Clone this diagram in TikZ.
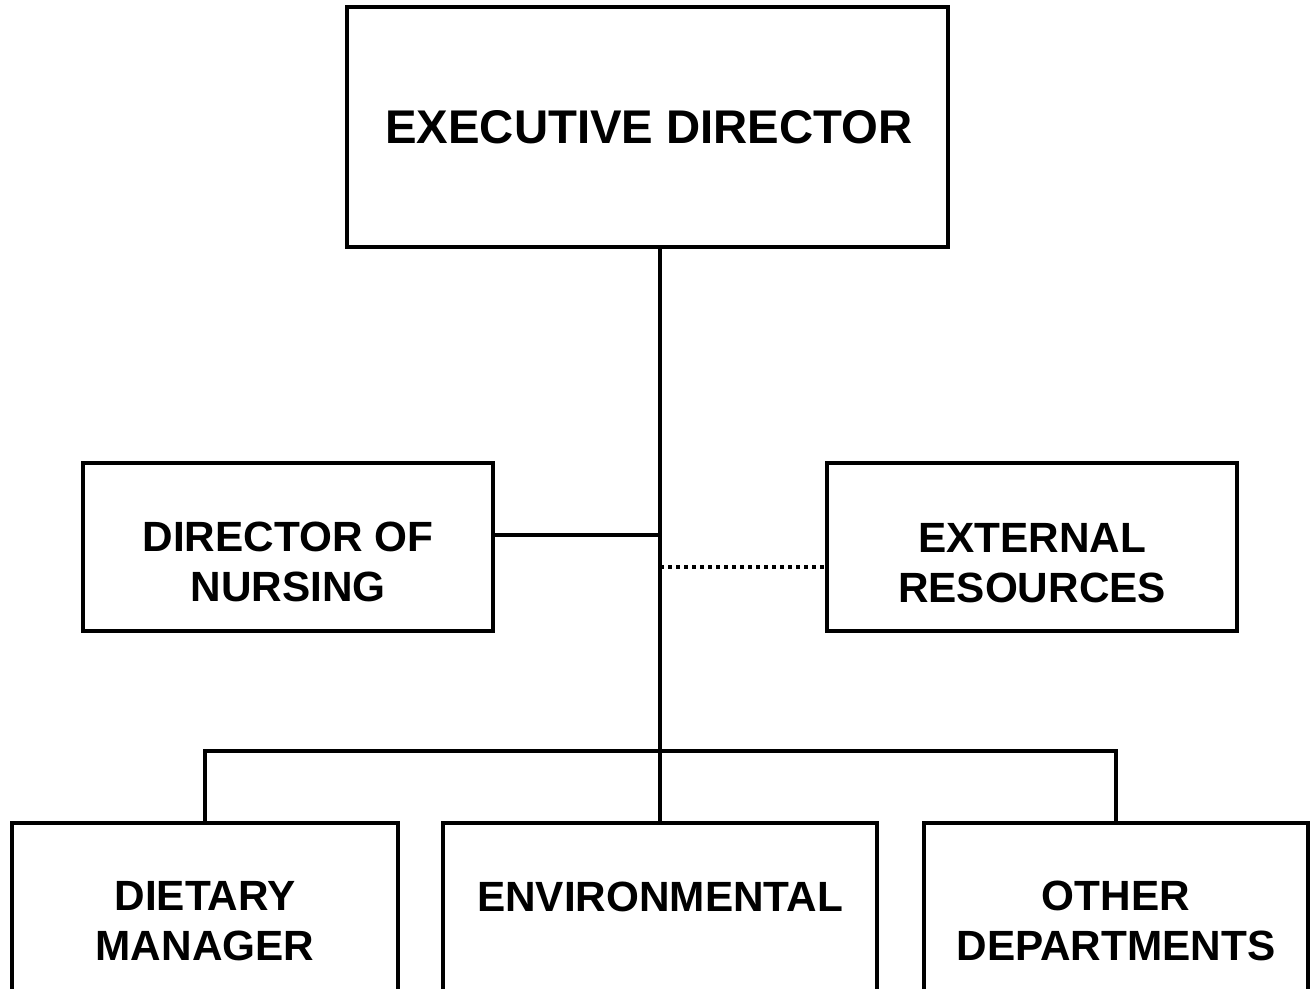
\documentclass[tikz,border=0pt]{standalone}
\usepackage{fontspec}
\setmainfont{Liberation Sans}
\begin{document}
\begin{tikzpicture}[x=0.5pt,y=-0.5pt,
  box/.style={draw=black,line width=1.75pt,rectangle,inner sep=0pt,fill=white},
  bigtxt/.style={font=\fontsize{23.65pt}{28pt}\selectfont\bfseries,align=center,inner sep=0pt},
  txt/.style={font=\fontsize{21.15pt}{25pt}\selectfont\bfseries,align=center,inner sep=0pt},
  conn/.style={draw=black,line width=1.75pt},
  dotconn/.style={draw=black,line width=2pt,dash pattern=on 2pt off 2pt}]
\useasboundingbox (0,0) rectangle (1310,989);
\clip (0,0) rectangle (1310,989);
% boxes
\node[box,minimum width=300.5pt,minimum height=120pt] (exec) at (647.5,127) {};
\node[box,minimum width=205pt,minimum height=84pt] (dn) at (288,547) {};
\node[box,minimum width=205pt,minimum height=84pt] (ext) at (1032,547) {};
\node[box,minimum width=193pt,minimum height=100pt] (diet) at (205,923) {};
\node[box,minimum width=217pt,minimum height=100pt] (env) at (660,923) {};
\node[box,minimum width=192pt,minimum height=100pt] (other) at (1116,923) {};
% texts
\node[bigtxt] (exect) at (649,127) {EXECUTIVE DIRECTOR};
\node[txt] (dnt) at (288,562) {DIRECTOR OF\\NURSING};
\node[txt] (extt) at (1032,563) {EXTERNAL\\RESOURCES};
\node[txt] (dietx) at (205,921) {DIETARY\\MANAGER};
\node[txt] (envt) at (660,897) {ENVIRONMENTAL};
\node[txt] (othert) at (1116,921) {OTHER\\DEPARTMENTS};
% junctions
\coordinate (j1) at (660,535);
\coordinate (j2) at (660,567);
\coordinate (bl) at (205,751);
\coordinate (br) at (1116,751);
% connectors
\draw[conn] (exec.south -| env.north) -- (env.north);
\draw[conn] (j1) -- (j1 -| dn.east);
\draw[dotconn] (j2) -- (j2 -| ext.west);
\draw[conn] (diet.north -| bl) -- (bl) -- (br) -- (br |- other.north);
\end{tikzpicture}
\end{document}
